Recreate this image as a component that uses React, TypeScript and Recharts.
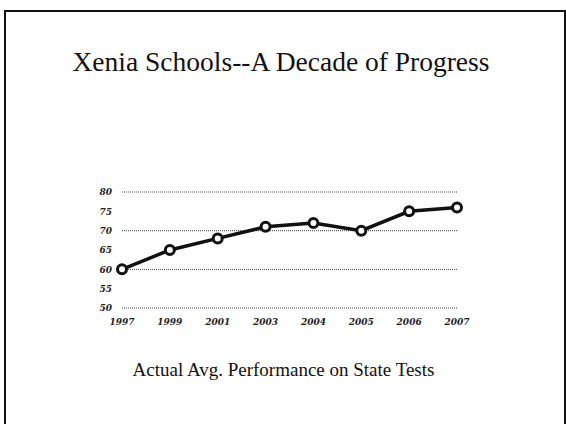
import React from "react";
import { LineChart, Line, XAxis, YAxis, CartesianGrid } from "recharts";

const years = ["1997", "1999", "2001", "2003", "2004", "2005", "2006", "2007"];
const scores = [60, 65, 68, 71, 72, 70, 75, 76];
const yTicks = [50, 55, 60, 65, 70, 75, 80];

const data = years.map((y, i) => ({ year: y, score: scores[i] }));

const tickFont = {
  fontFamily: "'DejaVu Serif', serif",
  fontStyle: "italic" as const,
  fontWeight: 700,
  fontSize: 9,
  fill: "#222",
};

export default function App() {
  return (
    <div
      style={{
        position: "fixed",
        left: 0,
        top: 0,
        width: 566,
        height: 424,
        background: "#fff",
        overflow: "hidden",
      }}
    >
      <div
        style={{
          position: "absolute",
          left: 4,
          top: 10,
          width: 562,
          height: 420,
          boxSizing: "border-box",
          borderLeft: "2px solid #111",
          borderTop: "2px solid #111",
          borderRight: "2px solid #111",
        }}
      />
      <div
        style={{
          position: "absolute",
          left: 0,
          width: 562,
          top: 45,
          textAlign: "center",
          fontFamily: "'Liberation Serif', serif",
          fontSize: 27.5,
          color: "#111",
          lineHeight: "34px",
        }}
      >
        Xenia Schools--A Decade of Progress
      </div>
      <div
        style={{
          position: "absolute",
          left: 0,
          width: 567,
          top: 357,
          textAlign: "center",
          fontFamily: "'Liberation Serif', serif",
          fontSize: 19,
          color: "#111",
          lineHeight: "26px",
        }}
      >
        Actual Avg. Performance on State Tests
      </div>
      <div style={{ position: "absolute", left: 0, top: 0 }}>
        <LineChart
          width={566}
          height={424}
          data={data}
          margin={{ top: 192, right: 109, bottom: 86, left: 92 }}
        >
          <CartesianGrid
            horizontal={true}
            vertical={false}
            stroke="#444"
            strokeDasharray="1 1"
          />
          <XAxis
            dataKey="year"
            axisLine={false}
            tickLine={false}
            tickSize={6}
            tickMargin={5}
            height={30}
            interval={0}
            tick={tickFont}
          />
          <YAxis
            domain={[50, 80]}
            ticks={yTicks}
            axisLine={false}
            tickLine={false}
            tickSize={8}
            tickMargin={2}
            width={30}
            tick={tickFont}
          />
          <Line
            type="linear"
            dataKey="score"
            stroke="#111"
            strokeWidth={3.5}
            dot={{ r: 4.5, fill: "#fff", stroke: "#111", strokeWidth: 3 }}
            isAnimationActive={false}
          />
        </LineChart>
      </div>
    </div>
  );
}
